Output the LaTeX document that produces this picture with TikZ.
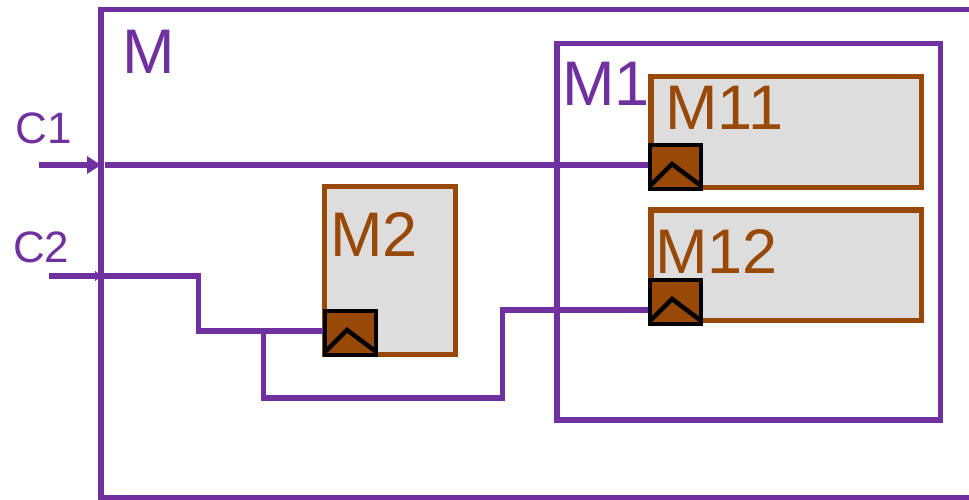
\documentclass[tikz,border=0pt]{standalone}
\usepackage{fontspec}
\setmainfont{Liberation Sans}
\usetikzlibrary{arrows.meta}
\definecolor{mpurple}{HTML}{7030A0}
\definecolor{mbrown}{HTML}{984807}
\definecolor{mgray}{HTML}{DDDDDD}
\tikzset{
  box/.style={draw=mpurple, line width=5.5pt, rectangle, inner sep=0pt, outer sep=0pt, anchor=north west},
  sub/.style={draw=mbrown, fill=mgray, line width=5.5pt, rectangle, inner sep=0pt, outer sep=0pt, anchor=north west},
  portbox/.style={draw=black, fill=mbrown, line width=4.5pt, rectangle, inner sep=0pt, outer sep=0pt, anchor=north west, minimum width=51pt, minimum height=44pt},
  chev/.style={draw=black, line width=4.5pt},
  wire/.style={draw=mpurple, line width=5.5pt},
  biglab/.style={anchor=base west, inner sep=0pt, outer sep=0pt, font=\fontsize{63}{63}\selectfont},
  smalllab/.style={anchor=base west, inner sep=0pt, outer sep=0pt, font=\fontsize{44}{44}\selectfont, text=mpurple},
}
\begin{document}
\begin{tikzpicture}[x=1pt,y=-1pt]
\useasboundingbox (0,0) rectangle (969,500);
\clip (0,0) rectangle (969,500);
% boxes
\node[box, minimum width=909pt, minimum height=488pt] (M) at (101,9.7) {};
\node[box, minimum width=383.5pt, minimum height=376.7pt] (M1) at (557,43.3) {};
\node[sub, minimum width=270.5pt, minimum height=111pt] (M11) at (651,76.5) {};
\node[sub, minimum width=270.5pt, minimum height=110.5pt] (M12) at (651,210) {};
\node[sub, minimum width=131pt, minimum height=168pt] (M2) at (324.5,186.5) {};
% labels
\node[biglab, text=mpurple] (lM) at (122.3,74) {M};
\node[biglab, text=mpurple] (lM1) at (562.3,106) {M1};
\node[biglab, text=mbrown] (lM11) at (665.3,130) {M11};
\node[biglab, text=mbrown] (lM12) at (655.3,273) {M12};
\node[biglab, text=mbrown] (lM2) at (330.3,256) {M2};
\node[smalllab] (lC1) at (16,144) {C1};
\node[smalllab] (lC2) at (13,262) {C2};
% ports
\node[portbox] (p11) at (650,145) {};
\node[portbox] (p12) at (650,280) {};
\node[portbox] (p2) at (325,311) {};
% connector coordinates
\coordinate (c1s) at (39,165);
\coordinate (c1e) at (101,165);
\coordinate (c1i) at (105,165);
\coordinate (c2s) at (49,276);
\coordinate (c2e) at (101,276);
\coordinate (k1) at (198.5,276);
\coordinate (k2) at (263.5,331);
\coordinate (k3) at (502.5,398);
\coordinate (t2) at (325,331);
\coordinate (t12) at (650,310);
% wires
\draw[wire, -{Triangle[length=14pt,width=17pt]}] (c1s) -- (c1e);
\draw[wire] (c1i) -- (c1i -| p11.west);
\draw[wire, -{Triangle[length=6pt,width=10pt]}] (c2s) -- (c2e);
\draw[wire] (c2e) -- (k1) |- (t2);
\draw[wire] (k2) |- (k3) |- (t12);
% redraw ports on top
\node[portbox] at (650,145) {};
\node[portbox] at (650,280) {};
\node[portbox] at (325,311) {};
% chevrons
\foreach \p in {p11,p12,p2}{
  \draw[chev] ([xshift=1pt,yshift=4pt]\p.south west) -- ([xshift=-3.5pt,yshift=3pt]\p.center) -- ([xshift=-1pt,yshift=4pt]\p.south east);
}
\end{tikzpicture}
\end{document}
